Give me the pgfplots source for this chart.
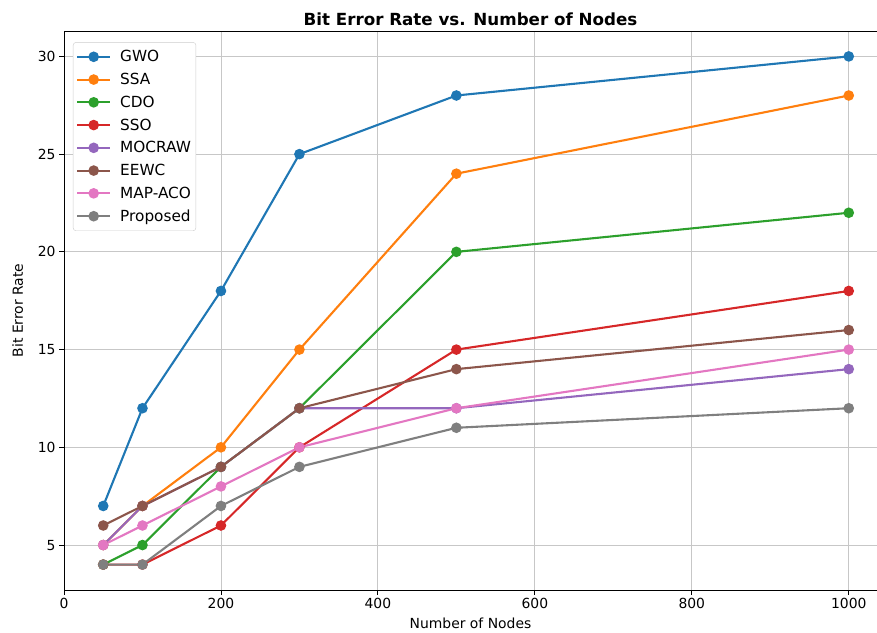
\documentclass[border=0pt]{standalone}
\usepackage{pgfplots}
\pgfplotsset{compat=1.18}
\usepackage{fontspec}
\setmainfont{DejaVu Sans}
\definecolor{tabblue}{HTML}{1F77B4}
\definecolor{taborange}{HTML}{FF7F0E}
\definecolor{tabgreen}{HTML}{2CA02C}
\definecolor{tabred}{HTML}{D62728}
\definecolor{tabpurple}{HTML}{9467BD}
\definecolor{tabbrown}{HTML}{8C564B}
\definecolor{tabpink}{HTML}{E377C2}
\definecolor{tabgray}{HTML}{7F7F7F}
\begin{document}
\begin{tikzpicture}
\begin{axis}[
  scale only axis,
  width=813pt, height=559pt,
  xmin=0, xmax=1036, ymin=2.7, ymax=31.3,
  xtick={0,200,400,600,800,1000},
  ytick={5,10,15,20,25,30},
  tick align=outside, tick pos=left,
  major tick length=4.9pt,
  every tick/.style={black, line width=0.9pt},
  grid=major,
  grid style={color=black!22, line width=0.9pt},
  axis line style={line width=0.9pt},
  /pgf/number format/assume math mode=true,
  /pgf/number format/set thousands separator={},
  ticklabel style={font=\fontsize{13.9}{16}\selectfont},
  xlabel={Number of Nodes}, ylabel={Bit Error Rate},
  label style={font=\fontsize{13.9}{16}\selectfont},
  title={\bfseries Bit Error Rate vs. Number of Nodes},
  title style={font=\fontsize{16.7}{19}\selectfont, yshift=-4pt},
  xlabel style={yshift=-2pt},
  ylabel style={yshift=8pt},
  every axis plot/.append style={line width=2.1pt, mark=*, mark size=4.2pt, mark options={solid}},
  legend cell align=left,
  legend style={font=\fontsize{15.3}{18}\selectfont, draw=black!20, rounded corners=3pt,
    at={(0.011,0.98)}, anchor=north west, row sep=5.9pt, column sep=7pt,
    inner xsep=3pt, inner ysep=6pt},
  legend image code/.code={\draw[#1] (0pt,0pt) -- (33pt,0pt); \draw[#1, mark repeat=1] plot coordinates {(16.5pt,0pt)};},
]
\addplot[tabblue] coordinates {(50,7) (100,12) (200,18) (300,25) (500,28) (1000,30)};
\addlegendentry{GWO}
\addplot[taborange] coordinates {(50,5) (100,7) (200,10) (300,15) (500,24) (1000,28)};
\addlegendentry{SSA}
\addplot[tabgreen] coordinates {(50,4) (100,5) (200,9) (300,12) (500,20) (1000,22)};
\addlegendentry{CDO}
\addplot[tabred] coordinates {(50,4) (100,4) (200,6) (300,10) (500,15) (1000,18)};
\addlegendentry{SSO}
\addplot[tabpurple] coordinates {(50,5) (100,7) (200,9) (300,12) (500,12) (1000,14)};
\addlegendentry{MOCRAW}
\addplot[tabbrown] coordinates {(50,6) (100,7) (200,9) (300,12) (500,14) (1000,16)};
\addlegendentry{EEWC}
\addplot[tabpink] coordinates {(50,5) (100,6) (200,8) (300,10) (500,12) (1000,15)};
\addlegendentry{MAP-ACO}
\addplot[tabgray] coordinates {(50,4) (100,4) (200,7) (300,9) (500,11) (1000,12)};
\addlegendentry{Proposed}
\end{axis}
\pgfresetboundingbox
\path[use as bounding box] (current axis.south west) ++(-64pt,-42pt) rectangle ++(877pt,632pt);
\end{tikzpicture}
\end{document}
